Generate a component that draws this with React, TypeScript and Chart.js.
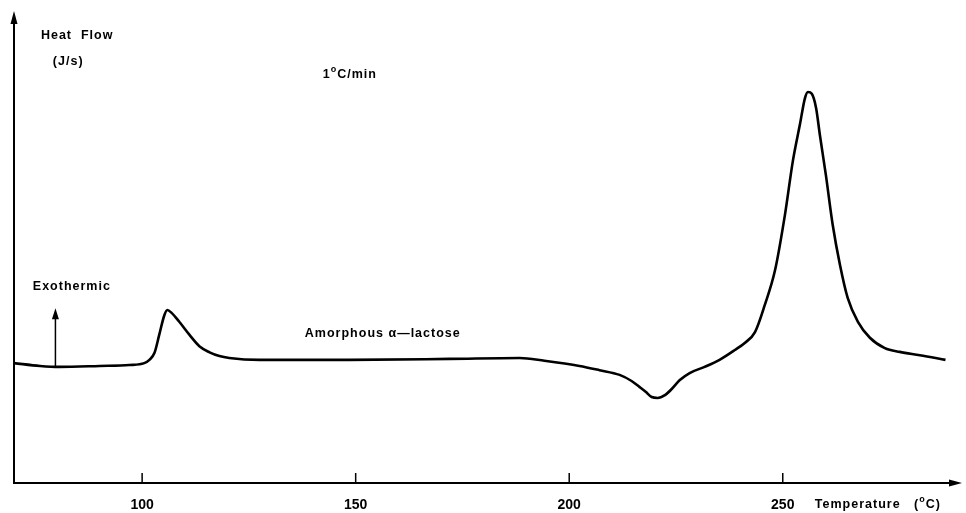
import { useEffect, useRef } from "react";
import { Chart, registerables } from "chart.js";

Chart.register(...registerables);

// Temperature (°C)
const temperatures = [
  70.0, 76.1, 80.6, 90.0, 97.0, 100.5, 101.7, 102.9, 104.0, 105.2, 105.9, 106.9,
  108.7, 111.1, 113.4, 115.8, 118.1, 120.4, 127.5, 148.5, 172.0, 188.4, 194.2, 202.4,
  207.1, 211.8, 214.6, 216.5, 217.9, 219.3, 220.7, 222.4, 224.0, 225.9, 228.2,
  231.7, 235.2, 238.8, 241.1, 243.5, 245.8, 248.2, 250.5, 252.4, 254.0, 255.2,
  255.9, 256.8, 257.8, 258.7, 260.1, 261.7, 263.4, 265.2, 267.6, 270.4, 273.9,
  277.4, 282.1, 288.1,
];

// Heat flow (arbitrary units, exothermic up)
const heatFlow = [
  25.5, 24.9, 24.7, 24.9, 25.1, 25.5, 26.2, 27.7, 31.5, 35.7, 36.8, 36.2,
  34.3, 31.5, 29.1, 27.8, 27.0, 26.6, 26.2, 26.2, 26.4, 26.6, 26.0, 24.9,
  24.0, 23.0, 21.7, 20.4, 19.4, 18.3, 18.1, 18.7, 20.0, 21.9, 23.4,
  24.7, 26.2, 28.3, 29.8, 32.1, 37.9, 45.3, 57.0, 68.7, 76.2, 81.9,
  83.2, 82.8, 79.8, 74.0, 65.5, 54.9, 46.4, 39.4, 34.3, 30.9, 28.7,
  27.9, 27.2, 26.2,
];

const xTickValues = [100, 150, 200, 250];
const xMin = 70;
const xMax = 291.5;
const yMin = 0;
const yMax = 100;

const FONT = '"Liberation Sans", Arial, sans-serif';

type Part = { text: string; sup?: boolean };

function drawRich(ctx: CanvasRenderingContext2D, parts: Part[], x: number, y: number, size: number) {
  let cx = x;
  for (const p of parts) {
    if (p.sup) {
      ctx.font = `bold ${Math.round(size * 0.72)}px ${FONT}`;
      ctx.fillText(p.text, cx, y - size * 0.42);
    } else {
      ctx.font = `bold ${size}px ${FONT}`;
      ctx.fillText(p.text, cx, y);
    }
    cx += ctx.measureText(p.text).width;
  }
}

const decorations = {
  id: "decorations",
  afterDraw(chart: any) {
    const { ctx, chartArea, scales } = chart;
    const { left, right, top, bottom } = chartArea;
    const xs = scales.x;
    const ys = scales.y;
    ctx.save();
    ctx.strokeStyle = "#000";
    ctx.fillStyle = "#000";

    // axes
    ctx.lineWidth = 2;
    ctx.beginPath();
    ctx.moveTo(left, top + 8);
    ctx.lineTo(left, bottom);
    ctx.lineTo(right - 6, bottom);
    ctx.stroke();

    // y arrow head
    ctx.beginPath();
    ctx.moveTo(left, top - 2);
    ctx.lineTo(left - 3.5, top + 11);
    ctx.lineTo(left + 3.5, top + 11);
    ctx.closePath();
    ctx.fill();

    // x arrow head
    ctx.beginPath();
    ctx.moveTo(right + 2, bottom);
    ctx.lineTo(right - 11, bottom - 3.5);
    ctx.lineTo(right - 11, bottom + 3.5);
    ctx.closePath();
    ctx.fill();

    // tick marks (pointing inward)
    ctx.lineWidth = 1.5;
    for (const v of xTickValues) {
      const px = xs.getPixelForValue(v);
      ctx.beginPath();
      ctx.moveTo(px, bottom);
      ctx.lineTo(px, bottom - 10);
      ctx.stroke();
    }

    // exothermic arrow
    const ax = xs.getPixelForValue(79.7);
    const ay0 = ys.getPixelForValue(24.7);
    const ay1 = ys.getPixelForValue(37.2);
    ctx.lineWidth = 1.5;
    ctx.beginPath();
    ctx.moveTo(ax, ay0);
    ctx.lineTo(ax, ay1 + 8);
    ctx.stroke();
    ctx.beginPath();
    ctx.moveTo(ax, ay1);
    ctx.lineTo(ax - 3.5, ay1 + 11);
    ctx.lineTo(ax + 3.5, ay1 + 11);
    ctx.closePath();
    ctx.fill();

    // texts
    ctx.textBaseline = "middle";
    ctx.textAlign = "left";
    (ctx as any).letterSpacing = "1px";
    drawRich(ctx, [{ text: "Heat  Flow" }], xs.getPixelForValue(76.3), ys.getPixelForValue(95.3), 12.5);
    drawRich(ctx, [{ text: "(J/s)" }], xs.getPixelForValue(79.1), ys.getPixelForValue(89.6), 12.5);
    drawRich(ctx, [{ text: "1" }, { text: "o", sup: true }, { text: "C/min" }], xs.getPixelForValue(142.3), ys.getPixelForValue(86.8), 12.5);
    drawRich(ctx, [{ text: "Exothermic" }], xs.getPixelForValue(74.4), ys.getPixelForValue(41.7), 12.5);
    drawRich(ctx, [{ text: "Amorphous α—lactose" }], xs.getPixelForValue(138.1), ys.getPixelForValue(31.9), 12.5);
    drawRich(
      ctx,
      [{ text: "Temperature   (" }, { text: "o", sup: true }, { text: "C)" }],
      xs.getPixelForValue(257.5),
      bottom + 22,
      12.5
    );
    ctx.restore();
  },
};

export default function App() {
  const canvasRef = useRef<HTMLCanvasElement | null>(null);

  useEffect(() => {
    if (!canvasRef.current) return;
    const chart = new Chart(canvasRef.current, {
      type: "line",
      data: {
        datasets: [
          {
            data: temperatures.map((t, i) => ({ x: t, y: heatFlow[i] })),
            borderColor: "#000",
            borderWidth: 2.6,
            pointRadius: 0,
            fill: false,
            cubicInterpolationMode: "monotone",
          },
        ],
      },
      options: {
        animation: false,
        responsive: true,
        maintainAspectRatio: false,
        layout: { padding: { left: 14, right: 6, top: 13, bottom: 0 } },
        plugins: { legend: { display: false }, tooltip: { enabled: false } },
        scales: {
          x: {
            type: "linear",
            min: xMin,
            max: xMax,
            grid: { display: false, drawTicks: false },
            border: { display: false },
            afterBuildTicks: (scale: any) => {
              scale.ticks = xTickValues.map((v) => ({ value: v }));
            },
            afterFit: (scale: any) => {
              scale.height = 30;
            },
            ticks: {
              color: "#000",
              padding: 14,
              maxRotation: 0,
              autoSkip: false,
              font: { family: FONT, size: 14, weight: "bold" },
            },
          },
          y: {
            min: yMin,
            max: yMax,
            display: false,
          },
        },
      },
      plugins: [decorations],
    });
    return () => chart.destroy();
  }, []);

  return (
    <div style={{ position: "absolute", left: 0, top: 0, width: 966, height: 513, background: "#fff" }}>
      <canvas ref={canvasRef} />
    </div>
  );
}
